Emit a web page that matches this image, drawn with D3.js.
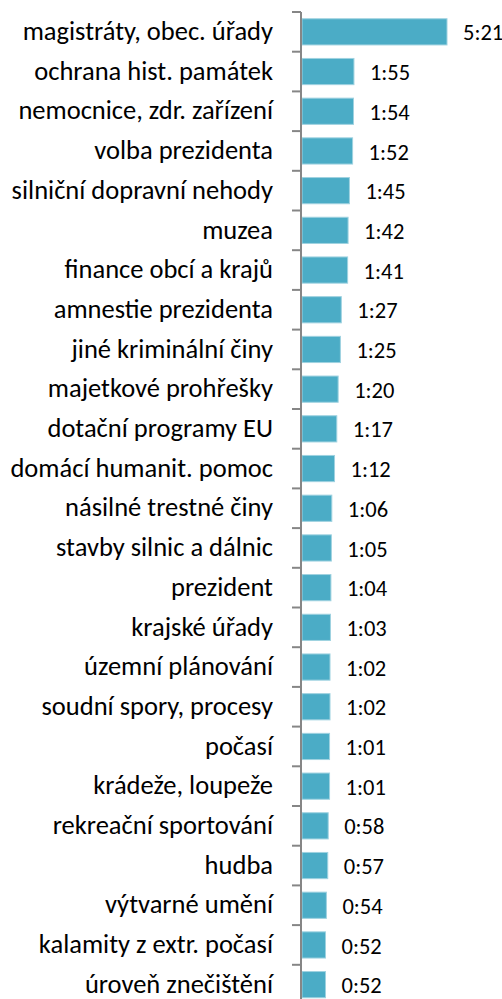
<!DOCTYPE html>
<html>
<head>
<meta charset="utf-8">
<script src="https://cdn.jsdelivr.net/npm/d3@7"></script>
<style>
body { margin: 0; background: #ffffff; }
text { font-family: Carlito, "Liberation Sans", sans-serif; }
</style>
</head>
<body>
<svg id="chart"></svg>
<script>
let width = 502;
let height = 999;

const categories = [
    "magistráty, obec. úřady", "ochrana hist. památek", "nemocnice, zdr. zařízení",
    "volba prezidenta", "silniční dopravní nehody", "muzea", "finance obcí a krajů",
    "amnestie prezidenta", "jiné kriminální činy", "majetkové prohřešky",
    "dotační programy EU", "domácí humanit. pomoc", "násilné trestné činy",
    "stavby silnic a dálnic", "prezident", "krajské úřady", "územní plánování",
    "soudní spory, procesy", "počasí", "krádeže, loupeže", "rekreační sportování",
    "hudba", "výtvarné umění", "kalamity z extr. počasí", "úroveň znečištění"
];
// durations in seconds
const seconds = [321, 115, 114, 112, 105, 102, 101, 87, 85, 80, 77, 72, 66, 65, 64, 63, 62, 62, 61, 61, 58, 57, 54, 52, 52];

let data = categories.map((c, i) => ({cat: c, sec: seconds[i]}));

let svg = d3.select("#chart")
    .attr("width", width)
    .attr("height", height);

let axisX = 301;

let y = d3.scaleBand()
    .domain(categories)
    .range([12, 12 + 39.7 * categories.length])
    .paddingInner(0.34)
    .paddingOuter(0.17);

let x = d3.scaleLinear()
    .domain([0, 321])
    .range([axisX + 1, axisX + 1 + 145]);

function fmt(s) {
    return Math.floor(s / 60) + ":" + d3.format("02d")(s % 60);
}

svg.selectAll("rect.bar")
    .data(data)
    .enter().append("rect")
    .attr("class", "bar")
    .attr("x", x(0))
    .attr("y", d => y(d.cat))
    .attr("width", d => x(d.sec) - x(0))
    .attr("height", y.bandwidth())
    .style("fill", "#4bacc6")
    .style("stroke", "#9fd2e0")
    .style("stroke-width", 1);

// axis line + tick marks between categories
let step = y.step();
let tickYs = d3.range(categories.length + 1).map(i => 12 + i * step);

svg.append("line")
    .attr("x1", axisX).attr("x2", axisX)
    .attr("y1", 12).attr("y2", tickYs[tickYs.length - 1])
    .style("stroke", "#868686")
    .style("stroke-width", 2);

svg.selectAll("line.tick")
    .data(tickYs)
    .enter().append("line")
    .attr("class", "tick")
    .attr("x1", axisX - 9).attr("x2", axisX)
    .attr("y1", d => d).attr("y2", d => d)
    .style("stroke", "#868686")
    .style("stroke-width", 2);

svg.selectAll("text.cat")
    .data(data)
    .enter().append("text")
    .attr("class", "cat")
    .attr("x", 273)
    .attr("y", d => y(d.cat) + y.bandwidth() / 2)
    .attr("dy", "0.31em")
    .attr("text-anchor", "end")
    .style("font-size", "26.5px")
    .style("fill", "#000000")
    .text(d => d.cat);

svg.selectAll("text.val")
    .data(data)
    .enter().append("text")
    .attr("class", "val")
    .attr("x", d => x(d.sec) + 16)
    .attr("y", d => y(d.cat) + y.bandwidth() / 2)
    .attr("dy", "0.38em")
    .style("font-size", "22.5px")
    .style("fill", "#000000")
    .text(d => fmt(d.sec));
</script>
</body>
</html>
